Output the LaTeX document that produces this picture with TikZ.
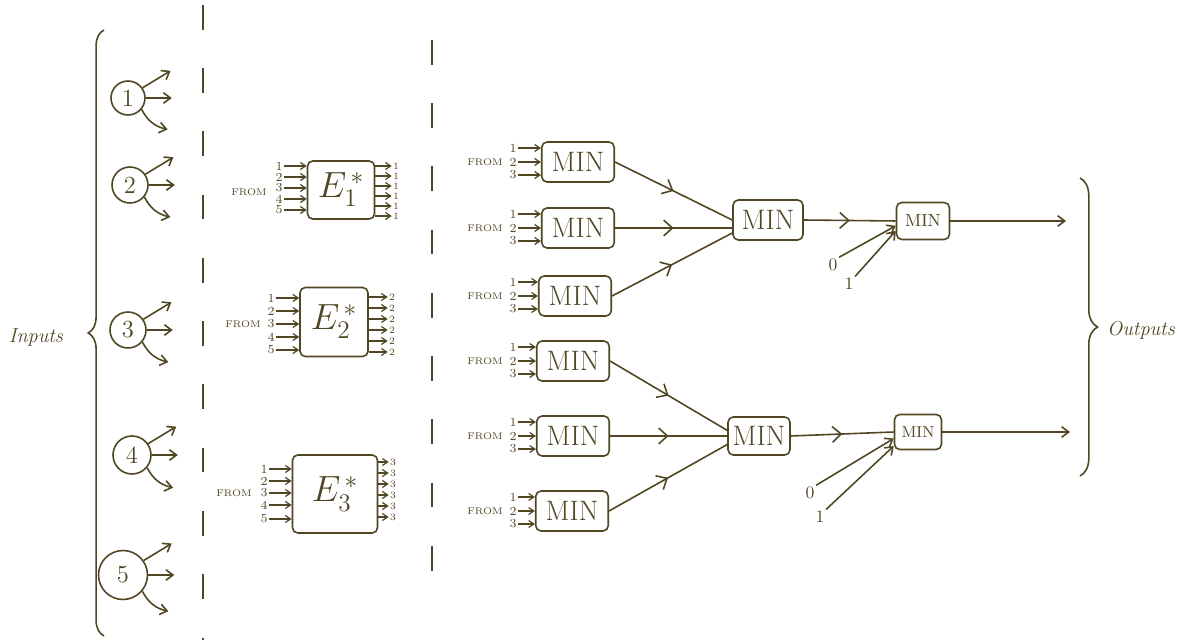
\documentclass[tikz,border=0pt]{standalone}
\usetikzlibrary{arrows.meta,decorations.pathreplacing,decorations.markings}
\definecolor{ink}{RGB}{80,70,35}
\begin{document}
\begin{tikzpicture}[x=0.02cm,y=-0.02cm, ink, line width=0.9pt,
  arr/.style={-{Straight Barb[length=4pt,width=6pt]}},
  sarr/.style={-{Straight Barb[length=3pt,width=4pt]},line width=0.7pt},
  midarr/.style={postaction={decorate},decoration={markings,mark=at position 0.5 with {\arrow{Straight Barb[length=5pt,width=9pt]}}}},
  inc/.style={draw,circle,inner sep=0pt,font=\fontsize{14}{16}\selectfont},
  ebox/.style={draw,rounded corners=3pt,inner sep=0pt,font=\fontsize{20}{22}\selectfont},
  minbox/.style={draw,rounded corners=3pt,inner sep=0pt,minimum width=1.45cm,minimum height=0.8cm,font=\fontsize{16}{18}\selectfont},
  finbox/.style={draw,rounded corners=3pt,inner sep=0pt,font=\fontsize{10}{12}\selectfont},
  lbl/.style={inner sep=0.3pt,font=\fontsize{7}{8}\selectfont},
  olbl/.style={inner sep=0.3pt,font=\fontsize{5.5}{6}\selectfont},
  from/.style={inner sep=0pt,font=\fontsize{5.5}{6}\selectfont},
  zo/.style={inner sep=0.5pt,font=\fontsize{10}{11}\selectfont},
  dashline/.style={line width=0.8pt,dash pattern=on 14pt off 22pt},
  side/.style={inner sep=0pt,font=\itshape\fontsize{11.5}{13}\selectfont}]
\useasboundingbox (0,0) rectangle (1186,644);

% separators
\draw[dashline] (203,5) -- (203,640);
\draw[dashline] (432,40) -- (432,590);

% inputs
\draw[decorate,decoration={brace,amplitude=9pt}] (104,636) -- (104,30);
\node[side] (inlab) at (36,338) {Inputs};
\foreach \i/\s/\cx/\cy in {1/0.68/128/98, 2/0.72/130/185, 3/0.72/128/330, 4/0.76/132/455, 5/0.98/123/575} {
  \node[inc,minimum size=\s cm] (c\i) at (\cx,\cy) {\i};
  \draw[arr] (c\i.35) -- ++(28,-17);
  \draw[arr] (c\i.east) -- ++(26,0);
  \draw[arr] (c\i.-40) to[bend right=25] ++(26,20);
}

% E boxes
\node[ebox,minimum width=1.34cm,minimum height=1.16cm] (e1) at (341,190) {$E_1^{\,*}$};
\node[ebox,minimum width=1.36cm,minimum height=1.38cm] (e2) at (334,322) {$E_2^{\,*}$};
\node[ebox,minimum width=1.70cm,minimum height=1.56cm] (e3) at (335,494) {$E_3^{\,*}$};
\node[from] (ef1) at (249,192) {FROM};
\node[from] (ef2) at (243,324) {FROM};
\node[from] (ef3) at (234,493) {FROM};
\foreach \y [count=\k] in {166,177,188,199,210} {
  \node[lbl] (e1i\k) at (279,\y) {\k};
  \draw[sarr] (e1i\k.east) -- (e1.west |- e1i\k);
}
\foreach \y [count=\k] in {298,311,324,337,350} {
  \node[lbl] (e2i\k) at (271,\y) {\k};
  \draw[sarr] (e2i\k.east) -- (e2.west |- e2i\k);
}
\foreach \y [count=\k] in {469,481,493,505,519} {
  \node[lbl] (e3i\k) at (264,\y) {\k};
  \draw[sarr] (e3i\k.east) -- (e3.west |- e3i\k);
}
\foreach \y [count=\k] in {166,176,186,196,206,216} {
  \node[olbl] (e1o\k) at (396,\y) {1};
  \draw[sarr] (e1.east |- e1o\k) -- (e1o\k.west);
}
\foreach \y [count=\k] in {297,308,319,330,341,352} {
  \node[olbl] (e2o\k) at (392,\y) {2};
  \draw[sarr] (e2.east |- e2o\k) -- (e2o\k.west);
}
\foreach \y [count=\k] in {462,473,484,495,506,517} {
  \node[olbl] (e3o\k) at (393,\y) {3};
  \draw[sarr] (e3.east |- e3o\k) -- (e3o\k.west);
}

% first MIN layer
\foreach \m/\cx/\cy in {1/578/162, 2/578/228, 3/575/296, 4/573/361, 5/573/436, 6/572/511} {
  \node[minbox] (m\m) at (\cx,\cy) {MIN};
  \node[from] (mf\m) at (485,\cy) {FROM};
  \foreach \d/\k in {-14/1,0/2,13/3} {
    \node[lbl] (mi\m x\k) at (513,\cy+\d) {\k};
    \draw[sarr] (mi\m x\k.east) -- (m\m.west |- mi\m x\k);
  }
}

% second MIN layer
\node[minbox,minimum width=1.4cm,minimum height=0.8cm] (ma) at (768,220) {MIN};
\node[minbox,minimum width=1.24cm,minimum height=0.76cm] (mb) at (759,436) {MIN};
\draw[midarr] (m1.east) -- (ma.west);
\draw[midarr] (m2.east) -- (m2.east -| ma.west);
\draw[midarr] (m3.east) -- (ma.200);
\draw[midarr] (m4.east) -- (mb.170);
\draw[midarr] (m5.east) -- (mb.west);
\draw[midarr] (m6.east) -- (mb.195);

% final MIN
\node[finbox,minimum width=1.06cm,minimum height=0.74cm] (fa) at (923,221) {MIN};
\node[finbox,minimum width=0.94cm,minimum height=0.70cm,font=\fontsize{9}{10}\selectfont] (fb) at (918,432) {MIN};
\draw[midarr] (ma.east) -- (fa.west);
\draw[midarr] (mb.east) -- (fb.west);
\node[zo] (fa0) at (833,265) {0};
\node[zo] (fa1) at (849,284) {1};
\draw[arr] (fa0.north east) -- (fa.190);
\draw[arr] (fa1.north east) -- (fa.200);
\node[zo] (fb0) at (810,493) {0};
\node[zo] (fb1) at (820,517) {1};
\draw[arr] (fb0.north east) -- (fb.195);
\draw[arr] (fb1.north east) -- (fb.210);

% outputs
\coordinate (oa) at (1066,221);
\coordinate (ob) at (1070,432);
\draw[arr] (fa.east) -- (oa);
\draw[arr] (fb.east) -- (ob);
\draw[decorate,decoration={brace,amplitude=10pt}] (1080,178) -- (1080,476);
\node[side] (outlab) at (1141,330) {Outputs};
\end{tikzpicture}
\end{document}
